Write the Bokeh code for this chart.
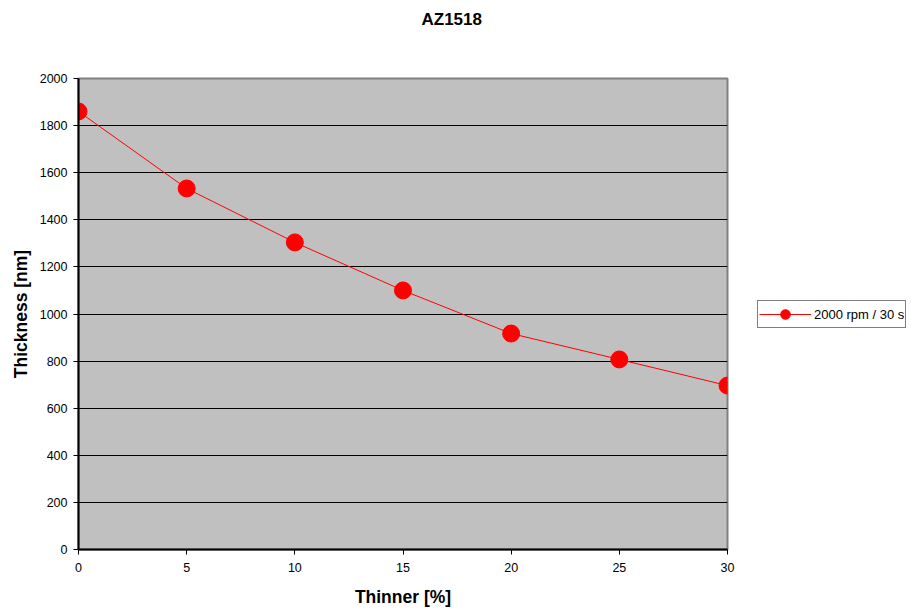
from bokeh.plotting import figure
from bokeh.models import Range1d, FixedTicker, Legend, LegendItem, Title, ColumnDataSource
from bokeh.layouts import row
from bokeh.embed import file_html
from bokeh.resources import INLINE

thinner = [0, 5, 10, 15, 20, 25, 30]
thickness = [1860, 1533, 1304, 1100, 917, 807, 696]
series_name = "2000 rpm / 30 s"
x_ticks = [0, 5, 10, 15, 20, 25, 30]
y_ticks = list(range(0, 2001, 200))

FONT = "Liberation Sans"
src = ColumnDataSource(dict(x=thinner, y=thickness))

p = figure(width=757, height=609, output_backend="svg", toolbar_location=None,
           x_range=Range1d(0, 30), y_range=Range1d(0, 2000),
           min_border_left=78, min_border_right=30, min_border_top=78, min_border_bottom=60)
p.title.text = "AZ1518"
p.title.align = "left"
p.title.offset = 343
p.title.text_font = FONT
p.title.text_font_size = "17px"
p.title.text_font_style = "bold"
p.title.text_color = "black"
spacer = Title(text=" ", text_font_size="30px", text_font=FONT)
p.add_layout(spacer, "above")

p.background_fill_color = "#C0C0C0"
p.border_fill_color = "white"
p.outline_line_color = "#808080"
p.outline_line_width = 2

p.xgrid.visible = False
p.ygrid.grid_line_color = "black"
p.ygrid.grid_line_width = 1
p.ygrid.ticker = FixedTicker(ticks=y_ticks)

p.xaxis.ticker = FixedTicker(ticks=x_ticks)
p.yaxis.ticker = FixedTicker(ticks=y_ticks)
for ax in (p.xaxis[0], p.yaxis[0]):
    ax.axis_line_color = "black"
    ax.axis_line_width = 2
    ax.major_tick_line_color = "black"
    ax.major_tick_out = 5
    ax.major_tick_in = 0
    ax.minor_tick_line_color = None
    ax.major_label_text_font = FONT
    ax.major_label_text_font_size = "12.5px"
    ax.major_label_text_color = "black"
    ax.axis_label_text_font = FONT
    ax.axis_label_text_font_size = "17.5px"
    ax.axis_label_text_font_style = "bold"
    ax.axis_label_text_color = "black"
p.xaxis.axis_label = "Thinner [%]"
p.yaxis.axis_label = "Thickness [nm]"
p.xaxis.major_label_standoff = 8
p.xaxis.axis_label_standoff = 12
p.yaxis.major_label_standoff = 6
p.yaxis.axis_label_standoff = 6

p.line("x", "y", source=src, line_color="red", line_width=1)
p.scatter("x", "y", source=src, size=17, fill_color="red", line_color="red")

# legend panel (renderers share the data; the range keeps them out of view)
lg = figure(width=154, height=609, output_backend="svg", toolbar_location=None,
            x_range=Range1d(-100, -99), y_range=Range1d(-100, -99),
            x_axis_type=None, y_axis_type=None,
            min_border=0, outline_line_color=None)
lg.grid.visible = False
lg.background_fill_color = "white"
lg.border_fill_color = "white"
lln = lg.line("x", "y", source=src, line_color="red", line_width=1)
lsc = lg.scatter("x", "y", source=src, size=17, fill_color="red", line_color="red")

legend = Legend(items=[LegendItem(label=series_name, renderers=[lln, lsc])],
                location=(0, 221), orientation="vertical")
legend.border_line_color = "black"
legend.border_line_width = 1
legend.background_fill_color = "white"
legend.label_text_font = FONT
legend.label_text_font_size = "13px"
legend.label_text_color = "black"
legend.glyph_width = 52
legend.glyph_height = 24
legend.label_standoff = 3
legend.padding = 1
legend.margin = 0
legend.spacing = 0
legend.label_height = 24
lg.add_layout(legend, "center")

layout = row(p, lg)
open("out.html", "w").write(file_html(layout, INLINE))
